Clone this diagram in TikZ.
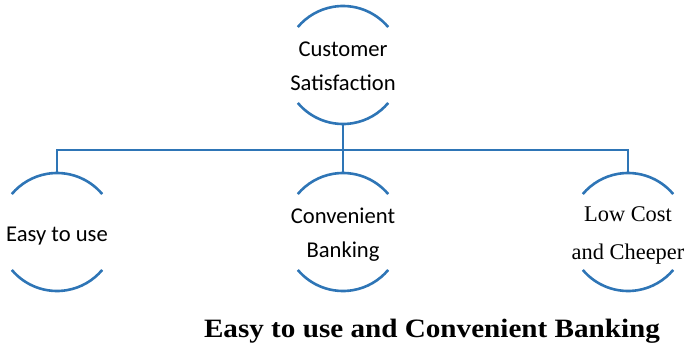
\documentclass[tikz,border=0pt]{standalone}
\usepackage{fontspec}
\setmainfont{Liberation Serif}
\newfontfamily\labelsans{Carlito}
\definecolor{linkblue}{RGB}{46,117,182}
\tikzset{
  x=1pt, y=-1pt,
  ring/.style={circle, minimum size=118pt, inner sep=0pt},
  sanslabel/.style={font=\labelsans\fontsize{22.6}{34}\selectfont, align=center, yshift=-2.5pt},
  seriflabel/.style={font=\fontsize{22.4}{38}\selectfont, align=center, yshift=-3pt},
  rim/.style={draw=linkblue, line width=2.6pt},
  link/.style={draw=linkblue, line width=2.6pt},
}
% top and bottom arcs of a ring node
\newcommand\ringarcs[1]{%
  \draw[rim] ([shift={(40:59pt)}]#1.center) arc[start angle=40, end angle=140, radius=59pt];
  \draw[rim] ([shift={(220:59pt)}]#1.center) arc[start angle=220, end angle=320, radius=59pt];
}
\begin{document}
\begin{tikzpicture}
\useasboundingbox (0,0) rectangle (687,345);

\node[ring, label={[sanslabel, yshift=1pt]center:Customer\\Satisfaction}] (top) at (343,65) {};
\node[ring, label={[sanslabel, yshift=-1.5pt]center:Easy to use}] (left) at (57,232) {};
\node[ring, label={[sanslabel]center:Convenient\\Banking}] (mid) at (343,232) {};
\node[ring, label={[seriflabel]center:Low Cost\\and Cheeper}] (right) at (628,232) {};

\ringarcs{top}
\ringarcs{left}
\ringarcs{mid}
\ringarcs{right}

\coordinate (bus) at (343,150);
\draw[link] (top.south) -- (mid.north);
\draw[link] (left.north) |- (bus) -| (right.north);

\node[font=\bfseries\fontsize{26.5}{30}\selectfont] (title) at (432,331)
  {\scalebox{1.1}[1]{Easy to use and Convenient Banking}};
\end{tikzpicture}
\end{document}
